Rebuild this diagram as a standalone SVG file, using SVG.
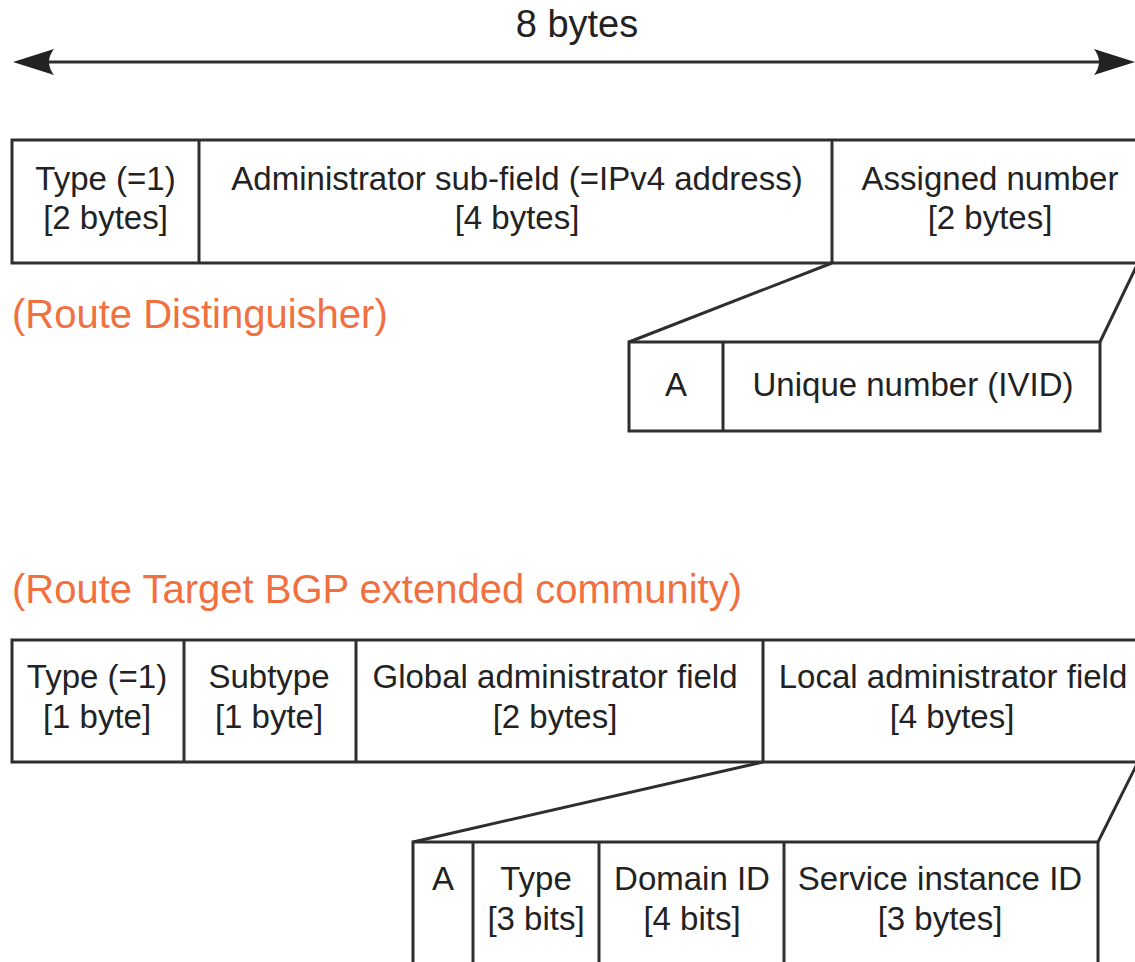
<svg xmlns="http://www.w3.org/2000/svg" width="1135" height="962" viewBox="0 0 1135 962">
<style>
.ln{fill:none;stroke:#2e2e2e;stroke-width:3}
.bx{fill:#fff;stroke:#2e2e2e;stroke-width:3}
.t{font-family:"Liberation Sans",Arial,Helvetica,sans-serif;font-size:33px;fill:#222;text-anchor:middle}
.o{font-family:"Liberation Sans",Arial,Helvetica,sans-serif;font-size:40px;fill:#F0703F}
.ar{fill:#222}
</style>
<rect width="1135" height="962" fill="#fff"/>
<g id="dimension">
<line class="ln" x1="40" y1="62" x2="1108" y2="62"/>
<path class="ar" d="M13,62 L54,49 Q44,62 54,75 Z"/>
<path class="ar" d="M1135,62 L1094,49 Q1104,62 1094,75 Z"/>
<text class="t" x="577" y="37" style="font-size:38px">8 bytes</text>
</g>
<g id="connectors">
<line class="ln" x1="832" y1="263" x2="629" y2="342"/>
<line class="ln" x1="1138" y1="263" x2="1100" y2="342"/>
<line class="ln" x1="763" y1="762" x2="413" y2="842"/>
<line class="ln" x1="1138" y1="762" x2="1098" y2="842"/>
</g>
<g id="route-distinguisher">
<rect class="bx" x="12" y="140" width="1130" height="123"/>
<line class="ln" x1="199" y1="140" x2="199" y2="263"/>
<line class="ln" x1="832" y1="140" x2="832" y2="263"/>
<text class="t" x="105.5" y="190">Type (=1)</text>
<text class="t" x="105.5" y="229">[2 bytes]</text>
<text class="t" x="517" y="190">Administrator sub-field (=IPv4 address)</text>
<text class="t" x="517" y="229">[4 bytes]</text>
<text class="t" x="990" y="190">Assigned number</text>
<text class="t" x="990" y="229">[2 bytes]</text>
</g>
<g id="rd-label">
<text class="o" x="12" y="328">(Route Distinguisher)</text>
</g>
<g id="rd-assigned-number">
<rect class="bx" x="629" y="342" width="471" height="89"/>
<line class="ln" x1="723" y1="342" x2="723" y2="431"/>
<text class="t" x="676" y="396">A</text>
<text class="t" x="913" y="396">Unique number (IVID)</text>
</g>
<g id="rt-label">
<text class="o" x="12" y="603">(Route Target BGP extended community)</text>
</g>
<g id="route-target">
<rect class="bx" x="12" y="640" width="1130" height="122"/>
<line class="ln" x1="184" y1="640" x2="184" y2="762"/>
<line class="ln" x1="356" y1="640" x2="356" y2="762"/>
<line class="ln" x1="763" y1="640" x2="763" y2="762"/>
<text class="t" x="97" y="688">Type (=1)</text>
<text class="t" x="97" y="728">[1 byte]</text>
<text class="t" x="269" y="688">Subtype</text>
<text class="t" x="269" y="728">[1 byte]</text>
<text class="t" x="555" y="688">Global administrator field</text>
<text class="t" x="555" y="728">[2 bytes]</text>
<text class="t" x="953" y="688">Local administrator field</text>
<text class="t" x="952" y="728">[4 bytes]</text>
</g>
<g id="rt-local-admin">
<rect class="bx" x="413" y="842" width="685" height="140"/>
<line class="ln" x1="473" y1="842" x2="473" y2="982"/>
<line class="ln" x1="599" y1="842" x2="599" y2="982"/>
<line class="ln" x1="784" y1="842" x2="784" y2="982"/>
<text class="t" x="443" y="890">A</text>
<text class="t" x="536" y="890">Type</text>
<text class="t" x="536" y="930">[3 bits]</text>
<text class="t" x="692" y="890">Domain ID</text>
<text class="t" x="692" y="930">[4 bits]</text>
<text class="t" x="940" y="890">Service instance ID</text>
<text class="t" x="940" y="930">[3 bytes]</text>
</g>
</svg>
